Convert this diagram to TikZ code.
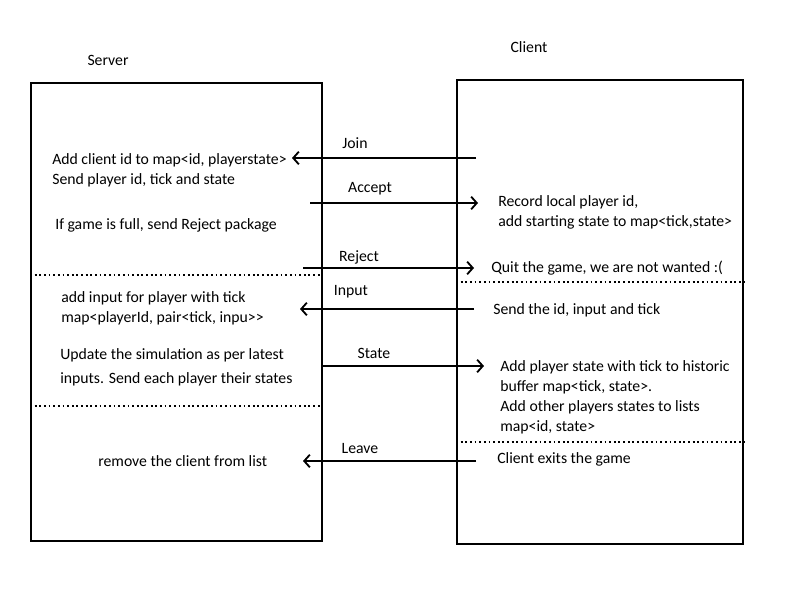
\documentclass[tikz,border=0pt]{standalone}
\usepackage{fontspec}
\setmainfont{Carlito}
\usetikzlibrary{arrows.meta,positioning}

\begin{document}
\begin{tikzpicture}
	[x=0.025cm,y=-0.025cm,
	every node/.style={font=\fontsize{11.2}{14.2}\selectfont,inner sep=0pt},
	box/.style={draw,line width=1.3pt,minimum width=#1},
	txt/.style={anchor=west,align=left},
	msg/.style={line width=1.3pt,-{Straight Barb[length=4pt,width=9pt,line width=1.3pt]}},
	sep/.style={dotted,line width=1.3pt}]
	\useasboundingbox (0,0) rectangle (800,600);
	% the two sides
	\node[box=7.275cm,minimum height=11.45cm] (server) at (176.5,312) {};
	\node[box=7.15cm,minimum height=11.6cm] (client) at (600,312) {};
	\node (serverlbl) at (108,60) {Server};
	\node (clientlbl) at (529,47) {Client};
	% phase separators
	\draw[sep] (server.west |- 0,275) -- (server.east |- 0,275);
	\draw[sep] (server.west |- 0,406) -- (server.east |- 0,406);
	\draw[sep] (client.west |- 0,282) -- (client.east |- 0,282);
	\draw[sep] (client.west |- 0,442) -- (client.east |- 0,442);
	% server side texts
	\node[txt] (addid) at (52,160) {Add client id to map<id, playerstate>};
	\node[txt] (sendid) at (52,180) {Send player id, tick and state};
	\node[txt] (full) at (55,225) {If game is full, send Reject package};
	\node[txt] (addin) at (61,308) {add input for player with tick\\map<playerId, pair<tick, inpu>{}>};
	\node[txt] (update) at (60,367) {Update the simulation as per latest\\[2.8pt]inputs. Send each player their states};
	\node[txt] (remove) at (98,461) {remove the client from list};
	% client side texts
	\node[txt] (record) at (498,212) {Record local player id,\\add starting state to map<tick,state>};
	\node[txt] (quit) at (491,268) {Quit the game, we are not wanted :(};
	\node[txt] (sendin) at (493,310) {Send the id, input and tick};
	\node[txt] (addst) at (500,397) {Add player state with tick to historic\\buffer map<tick, state>.\\Add other players states to lists\\map<id, state>};
	\node[txt] (exits) at (497,459) {Client exits the game};
	% message ends
	\coordinate (join1) at (476,158);   \coordinate (join2) at (292,158);
	\coordinate (acc1) at (310,203);    \coordinate (acc2) at (478,203);
	\coordinate (rej1) at (303,268);    \coordinate (rej2) at (474,268);
	\coordinate (in1) at (474,309);     \coordinate (in2) at (300,309);
	\coordinate (st1) at (321,366);     \coordinate (st2) at (484,366);
	\coordinate (lv1) at (476,461);     \coordinate (lv2) at (303,461);
	% messages
	\draw[msg] (join1) -- (join2);
	\node (join) at (355,143) {Join};
	\draw[msg] (acc1) -- (acc2);
	\node (accept) at (370,189) {Accept};
	\draw[msg] (rej1) -- (rej2);
	\node (reject) at (359,257) {Reject};
	\draw[msg] (in1) -- (in2);
	\node (input) at (351,292) {Input};
	\draw[msg] (st1) -- (st2);
	\node (state) at (374,353) {State};
	\draw[msg] (lv1) -- (lv2);
	\node (leave) at (360,448) {Leave};
\end{tikzpicture}
\end{document}
